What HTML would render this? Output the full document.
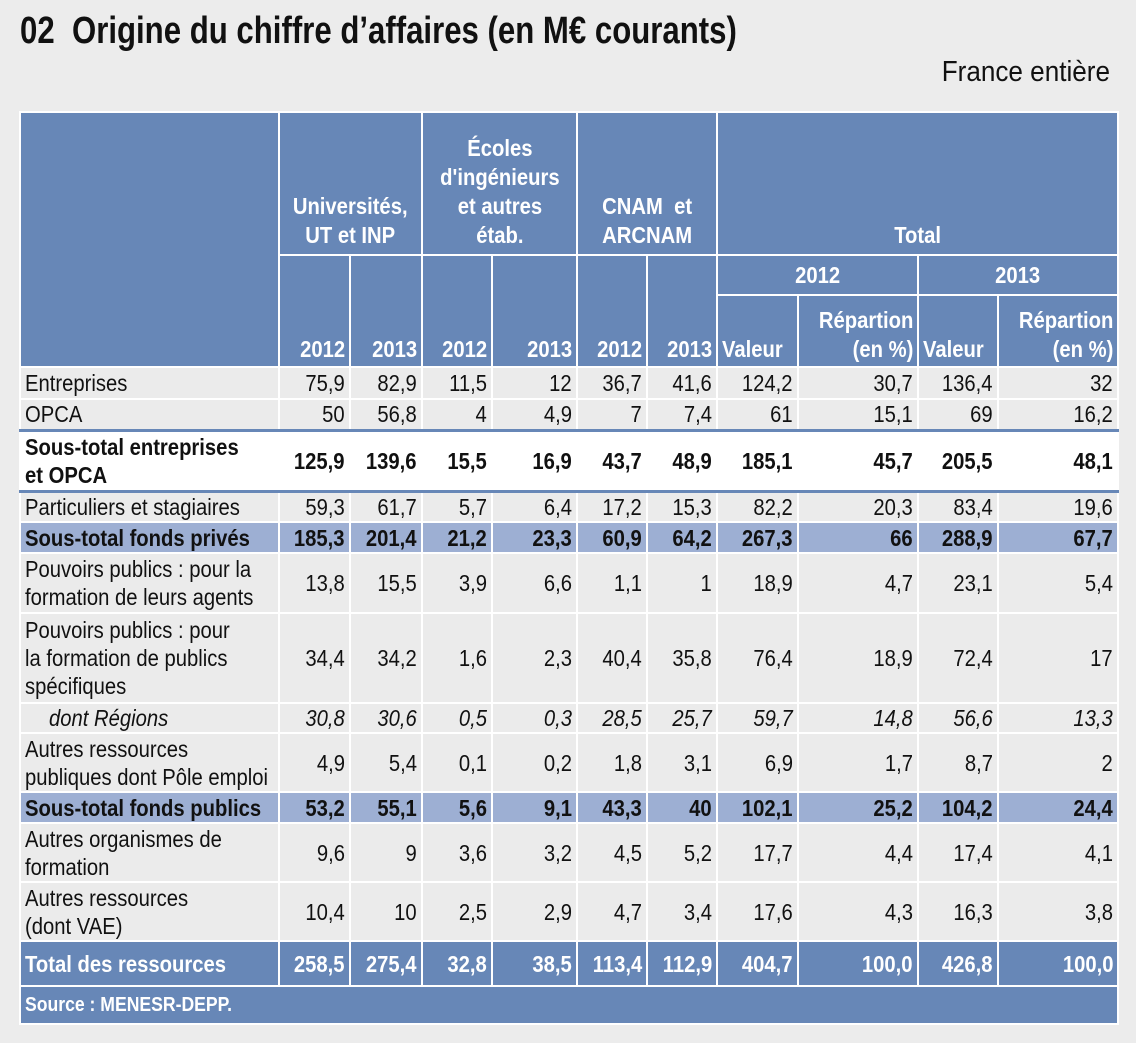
<!DOCTYPE html>
<html><head><meta charset="utf-8"><style>
body{margin:0;width:1136px;height:1043px;background:#ececec;font-family:"Liberation Sans",sans-serif;position:relative;overflow:hidden}
span{display:inline-block;transform:scaleX(.88);transform-origin:right center}
.title{position:absolute;left:20px;top:10px;font-size:38px;font-weight:bold;color:#111;white-space:nowrap}
.title span{transform:scaleX(.82);transform-origin:left center}
.sub{position:absolute;right:26px;top:56px;font-size:29px;color:#111}
.sub span{transform:scaleX(.9);transform-origin:right center}
table{position:absolute;left:19px;top:111px;border-collapse:collapse;table-layout:fixed;width:1098px;font-size:23px;color:#111}
td{border:2px solid #fff;padding:0 4px;text-align:right;line-height:28px;vertical-align:middle;background:#ebebeb;overflow:visible;white-space:nowrap}
td.l{text-align:left}
td.l span{transform-origin:left center}
.h td{background:#6787b7;color:#fff;font-weight:bold;text-align:center;line-height:29px}
.h td span{transform-origin:center center}
.h td.y{vertical-align:bottom;text-align:right;padding-bottom:2px}
.h td.y span{transform-origin:right center}
.h td.yl{text-align:left}
.h td.yl span{transform-origin:left center}
.st td{background:#9dafd3;font-weight:bold}
.w td{background:#fff;font-weight:bold;border-top:3px solid #6787b7;border-bottom:3px solid #6787b7;border-left-color:#fff;border-right-color:#fff}
.it td{font-style:italic}
.tot td{background:#6787b7;color:#fff;font-weight:bold}
.src td{background:#6787b7;color:#fff;font-weight:bold;font-size:20px}
</style></head><body>
<div class="title"><span>02&nbsp;&nbsp;Origine du chiffre d’affaires (en M€ courants)</span></div>
<div class="sub"><span>France entière</span></div>
<table>
<colgroup><col style="width:259px"><col style="width:71px"><col style="width:72px"><col style="width:70px"><col style="width:85px"><col style="width:70px"><col style="width:70px"><col style="width:81px"><col style="width:120px"><col style="width:80px"><col style="width:120px"></colgroup>
<tr class="h" style="height:143px"><td rowspan="3"></td><td colspan="2" style="vertical-align:bottom;padding-bottom:4px"><span>Universités,<br>UT et INP</span></td><td colspan="2" style="vertical-align:bottom;padding-bottom:4px"><span>Écoles<br>d'ingénieurs<br>et autres<br>étab.</span></td><td colspan="2" style="vertical-align:bottom;padding-bottom:4px"><span>CNAM&nbsp; et<br>ARCNAM</span></td><td colspan="4" style="vertical-align:bottom;padding-bottom:4px"><span>Total</span></td></tr>
<tr class="h" style="height:40px"><td class="y" rowspan="2"><span>2012</span></td><td class="y" rowspan="2"><span>2013</span></td><td class="y" rowspan="2"><span>2012</span></td><td class="y" rowspan="2"><span>2013</span></td><td class="y" rowspan="2"><span>2012</span></td><td class="y" rowspan="2"><span>2013</span></td><td colspan="2"><span>2012</span></td><td colspan="2"><span>2013</span></td></tr>
<tr class="h" style="height:72px"><td class="y yl"><span>Valeur</span></td><td class="y"><span>Répartion<br>(en %)</span></td><td class="y yl"><span>Valeur</span></td><td class="y"><span>Répartion<br>(en %)</span></td></tr>
<tr style="height:32px"><td class="l"><span>Entreprises</span></td><td><span>75,9</span></td><td><span>82,9</span></td><td><span>11,5</span></td><td><span>12</span></td><td><span>36,7</span></td><td><span>41,6</span></td><td><span>124,2</span></td><td><span>30,7</span></td><td><span>136,4</span></td><td><span>32</span></td></tr>
<tr style="height:31px"><td class="l"><span>OPCA</span></td><td><span>50</span></td><td><span>56,8</span></td><td><span>4</span></td><td><span>4,9</span></td><td><span>7</span></td><td><span>7,4</span></td><td><span>61</span></td><td><span>15,1</span></td><td><span>69</span></td><td><span>16,2</span></td></tr>
<tr class="w" style="height:61px"><td class="l"><span>Sous-total entreprises<br>et OPCA</span></td><td><span>125,9</span></td><td><span>139,6</span></td><td><span>15,5</span></td><td><span>16,9</span></td><td><span>43,7</span></td><td><span>48,9</span></td><td><span>185,1</span></td><td><span>45,7</span></td><td><span>205,5</span></td><td><span>48,1</span></td></tr>
<tr style="height:31px"><td class="l"><span>Particuliers et stagiaires</span></td><td><span>59,3</span></td><td><span>61,7</span></td><td><span>5,7</span></td><td><span>6,4</span></td><td><span>17,2</span></td><td><span>15,3</span></td><td><span>82,2</span></td><td><span>20,3</span></td><td><span>83,4</span></td><td><span>19,6</span></td></tr>
<tr class="st" style="height:31px"><td class="l"><span>Sous-total fonds privés</span></td><td><span>185,3</span></td><td><span>201,4</span></td><td><span>21,2</span></td><td><span>23,3</span></td><td><span>60,9</span></td><td><span>64,2</span></td><td><span>267,3</span></td><td><span>66</span></td><td><span>288,9</span></td><td><span>67,7</span></td></tr>
<tr style="height:60px"><td class="l"><span>Pouvoirs publics : pour la<br>formation de leurs agents</span></td><td><span>13,8</span></td><td><span>15,5</span></td><td><span>3,9</span></td><td><span>6,6</span></td><td><span>1,1</span></td><td><span>1</span></td><td><span>18,9</span></td><td><span>4,7</span></td><td><span>23,1</span></td><td><span>5,4</span></td></tr>
<tr style="height:90px"><td class="l"><span>Pouvoirs publics : pour<br>la formation de publics<br>spécifiques</span></td><td><span>34,4</span></td><td><span>34,2</span></td><td><span>1,6</span></td><td><span>2,3</span></td><td><span>40,4</span></td><td><span>35,8</span></td><td><span>76,4</span></td><td><span>18,9</span></td><td><span>72,4</span></td><td><span>17</span></td></tr>
<tr class="it" style="height:29px"><td class="l" style="padding-left:28px"><span>dont Régions</span></td><td><span>30,8</span></td><td><span>30,6</span></td><td><span>0,5</span></td><td><span>0,3</span></td><td><span>28,5</span></td><td><span>25,7</span></td><td><span>59,7</span></td><td><span>14,8</span></td><td><span>56,6</span></td><td><span>13,3</span></td></tr>
<tr style="height:59px"><td class="l"><span>Autres ressources<br>publiques dont Pôle emploi</span></td><td><span>4,9</span></td><td><span>5,4</span></td><td><span>0,1</span></td><td><span>0,2</span></td><td><span>1,8</span></td><td><span>3,1</span></td><td><span>6,9</span></td><td><span>1,7</span></td><td><span>8,7</span></td><td><span>2</span></td></tr>
<tr class="st" style="height:31px"><td class="l"><span>Sous-total fonds publics</span></td><td><span>53,2</span></td><td><span>55,1</span></td><td><span>5,6</span></td><td><span>9,1</span></td><td><span>43,3</span></td><td><span>40</span></td><td><span>102,1</span></td><td><span>25,2</span></td><td><span>104,2</span></td><td><span>24,4</span></td></tr>
<tr style="height:59px"><td class="l"><span>Autres organismes de<br>formation</span></td><td><span>9,6</span></td><td><span>9</span></td><td><span>3,6</span></td><td><span>3,2</span></td><td><span>4,5</span></td><td><span>5,2</span></td><td><span>17,7</span></td><td><span>4,4</span></td><td><span>17,4</span></td><td><span>4,1</span></td></tr>
<tr style="height:59px"><td class="l"><span>Autres ressources<br>(dont VAE)</span></td><td><span>10,4</span></td><td><span>10</span></td><td><span>2,5</span></td><td><span>2,9</span></td><td><span>4,7</span></td><td><span>3,4</span></td><td><span>17,6</span></td><td><span>4,3</span></td><td><span>16,3</span></td><td><span>3,8</span></td></tr>
<tr class="tot" style="height:45px"><td class="l"><span>Total des ressources</span></td><td><span>258,5</span></td><td><span>275,4</span></td><td><span>32,8</span></td><td><span>38,5</span></td><td><span>113,4</span></td><td><span>112,9</span></td><td><span>404,7</span></td><td><span>100,0</span></td><td><span>426,8</span></td><td><span>100,0</span></td></tr>
<tr class="src" style="height:38px"><td class="l" colspan="11"><span>Source : MENESR-DEPP.</span></td></tr>
</table>
</body></html>
